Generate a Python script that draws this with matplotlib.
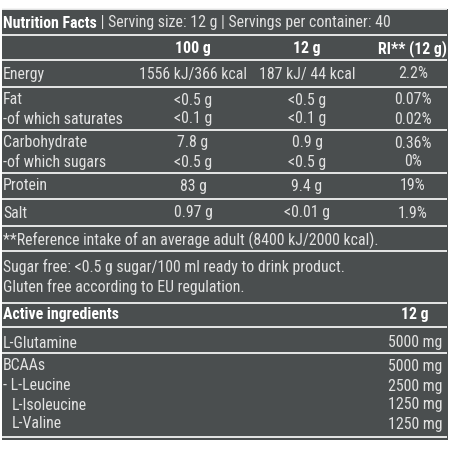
import matplotlib
matplotlib.use("Agg")
import matplotlib.pyplot as plt
from matplotlib.patches import Rectangle

plt.rcParams['font.family'] = ['Roboto Condensed', 'DejaVu Sans']

title_bold = "Nutrition Facts"
title_rest = " | Serving size: 12 g | Servings per container: 40"
col_headers = ["100 g", "12 g", "RI** (12 g)"]

nutrients = ["Energy", "Fat", "-of which saturates", "Carbohydrate",
             "-of which sugars", "Protein", "Salt"]
per_100g = ["1556 kJ/366 kcal", "<0.5 g", "<0.1 g", "7.8 g", "<0.5 g", "83 g", "0.97 g"]
per_12g = ["187 kJ/ 44 kcal", "<0.5 g", "<0.1 g", "0.9 g", "<0.5 g", "9.4 g", "<0.01 g"]
ri_12g = ["2.2%", "0.07%", "0.02%", "0.36%", "0%", "19%", "1.9%"]

footnote = "**Reference intake of an average adult (8400 kJ/2000 kcal)."
notes = ["Sugar free: <0.5 g sugar/100 ml ready to drink product.",
         "Gluten free according to EU regulation."]

active_header = ["Active ingredients", "12 g"]
ingredients = ["L-Glutamine", "BCAAs", "- L-Leucine", "L-Isoleucine", "L-Valine"]
ingredient_mg = ["5000 mg", "5000 mg", "2500 mg", "1250 mg", "1250 mg"]

# layout (pixel coordinates)
W = H = 450
bg = "#4a4e4f"
fg = "#e2e2e2"
fs = 11.4

nut_y = [74, 100, 119, 143, 162, 186, 213]
ing_y = [343, 366, 386, 405, 424]
ing_x = [3, 3, 3, 12, 12]
col_x = [193, 307, 413]
rule_y = [9, 35, 60, 87, 130, 173, 199, 226, 251, 303, 327, 353, 437]

fig = plt.figure(figsize=(4.5, 4.5), dpi=100)
ax = fig.add_axes([0, 0, 1, 1])
ax.set_xlim(0, W)
ax.set_ylim(H, 0)
ax.axis('off')
fig.patch.set_facecolor('white')

ax.add_patch(Rectangle((2, 9), 446, 431, facecolor=bg, edgecolor='none'))
for y in rule_y:
    ax.plot([2, 447], [y, y], color="#f2f2f2", lw=1.3, solid_capstyle='butt')

t = ax.text(3, 23, title_bold, color='white', fontsize=fs, fontweight='bold', va='center', ha='left')
fig.canvas.draw()
bb = t.get_window_extent(renderer=fig.canvas.get_renderer())
x_end = ax.transData.inverted().transform((bb.x1, bb.y0))[0]
ax.text(x_end, 23, title_rest, color=fg, fontsize=fs, va='center', ha='left')

for x, h in zip(col_x, col_headers):
    ax.text(x, 49, h, color='white', fontsize=fs, fontweight='bold', va='center', ha='center')

for i, name in enumerate(nutrients):
    y = nut_y[i]
    ax.text(3, y, name, color=fg, fontsize=fs, va='center', ha='left')
    ax.text(col_x[0], y, per_100g[i], color=fg, fontsize=fs, va='center', ha='center')
    ax.text(col_x[1], y, per_12g[i], color=fg, fontsize=fs, va='center', ha='center')
    ax.text(col_x[2], y, ri_12g[i], color=fg, fontsize=fs, va='center', ha='center')

ax.text(3, 240, footnote, color=fg, fontsize=fs, va='center', ha='left')
ax.text(3, 267, notes[0], color=fg, fontsize=fs, va='center', ha='left')
ax.text(3, 287, notes[1], color=fg, fontsize=fs, va='center', ha='left')

ax.text(3, 315, active_header[0], color='white', fontsize=fs, fontweight='bold', va='center', ha='left')
ax.text(415, 315, active_header[1], color='white', fontsize=fs, fontweight='bold', va='center', ha='center')
for i, name in enumerate(ingredients):
    ax.text(ing_x[i], ing_y[i], name, color=fg, fontsize=fs, va='center', ha='left')
    ax.text(415, ing_y[i], ingredient_mg[i], color=fg, fontsize=fs, va='center', ha='center')

fig.savefig("out.png", dpi=100, facecolor='white')
